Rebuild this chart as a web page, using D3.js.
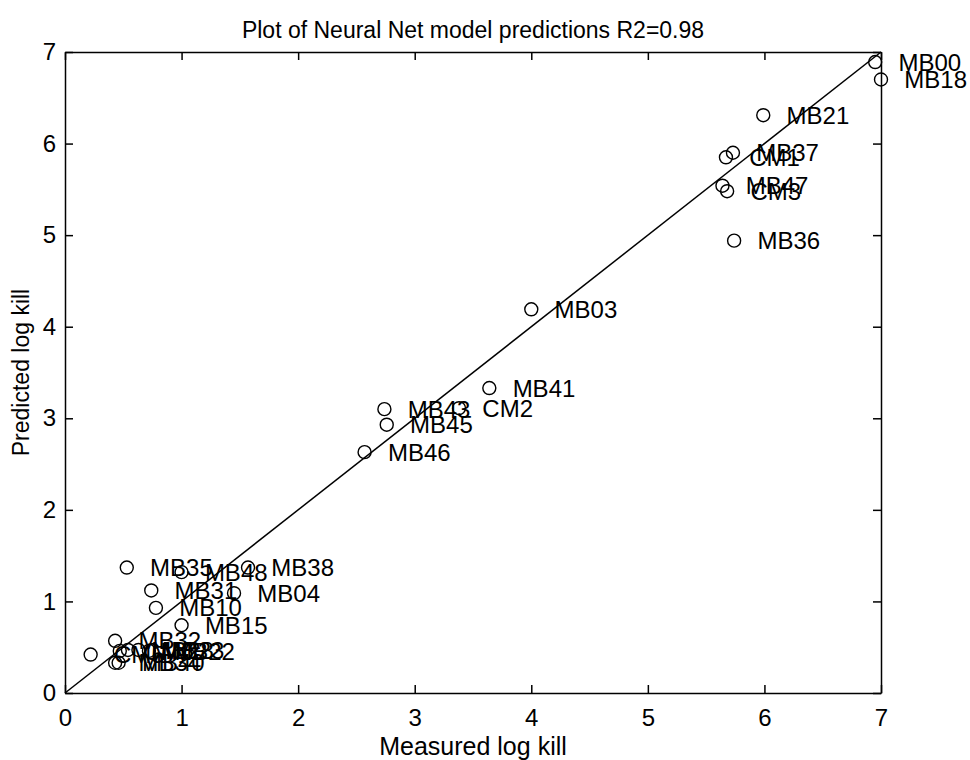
<!DOCTYPE html>
<html lang="en">

<head>
    <meta charset="UTF-8">
    <title>Plot of Neural Net model predictions</title>
    <script src="https://d3js.org/d3.v7.min.js"></script>
    <style>
        body {
            margin: 0;
            background: #fff;
        }

        svg text {
            font-family: Helvetica, Arial, "Liberation Sans", sans-serif;
            fill: #000;
        }

        .axis path,
        .axis line {
            stroke: #000;
            stroke-width: 1.5px;
        }

        .axis text {
            font-size: 24px;
        }

        .pt {
            fill: none;
            stroke: #000;
            stroke-width: 1.4px;
        }

        .pt-label {
            font-size: 24px;
        }
    </style>
</head>

<body>
    <svg width="970" height="760"></svg>

    <script>
        // measured vs predicted log kill
        const labels = ["MB00", "MB18", "MB21", "MB37", "CM1", "MB47", "CM3", "MB36",
            "MB03", "MB41", "CM2", "MB43", "MB45", "MB46",
            "MB35", "MB48", "MB38", "MB31", "MB04", "MB10", "MB15",
            "MB32", "CM5", "CM6", "MB28", "MB23", "MB22", "MB34", "MB40"];
        const measured = [6.95, 7.0, 5.99, 5.73, 5.67, 5.64, 5.68, 5.74,
            4.0, 3.64, 3.38, 2.74, 2.76, 2.57,
            0.53, 1.0, 1.57, 0.74, 1.45, 0.78, 1.0,
            0.43, 0.22, 0.47, 0.54, 0.63, 0.72, 0.43, 0.46];
        const predicted = [6.89, 6.70, 6.31, 5.90, 5.85, 5.54, 5.48, 4.94,
            4.19, 3.33, 3.11, 3.10, 2.93, 2.63,
            1.37, 1.32, 1.37, 1.12, 1.09, 0.93, 0.74,
            0.57, 0.42, 0.46, 0.47, 0.47, 0.46, 0.33, 0.33];
        const ticks = [0, 1, 2, 3, 4, 5, 6, 7];
        const r2 = "0.98";

        const points = labels.map((l, i) => ({ label: l, x: measured[i], y: predicted[i] }));

        // plot box edges in pixels
        const boxL = 65, boxR = 881, boxT = 52, boxB = 693;

        const svg = d3.select("svg");

        const x = d3.scaleLinear().domain([0, 7]).range([boxL, boxR]);
        const y = d3.scaleLinear().domain([0, 7]).range([boxB, boxT]);

        // axes, ticks inside like matlab's box
        svg.append("g")
            .attr("class", "axis")
            .attr("transform", `translate(0,${boxB})`)
            .call(d3.axisBottom(x).tickValues(ticks).tickFormat(d3.format("d"))
                .tickSizeInner(-8).tickSizeOuter(0).tickPadding(16));

        svg.append("g")
            .attr("class", "axis")
            .attr("transform", `translate(${boxL},0)`)
            .call(d3.axisLeft(y).tickValues(ticks).tickFormat(d3.format("d"))
                .tickSizeInner(-8).tickSizeOuter(0).tickPadding(9));

        svg.append("g")
            .attr("class", "axis")
            .attr("transform", `translate(0,${boxT})`)
            .call(d3.axisTop(x).tickValues(ticks).tickFormat("")
                .tickSizeInner(-8).tickSizeOuter(0));

        svg.append("g")
            .attr("class", "axis")
            .attr("transform", `translate(${boxR},0)`)
            .call(d3.axisRight(y).tickValues(ticks).tickFormat("")
                .tickSizeInner(-8).tickSizeOuter(0));

        // y = x reference line
        svg.append("line")
            .attr("x1", x(0)).attr("y1", y(0))
            .attr("x2", x(7)).attr("y2", y(7))
            .attr("stroke", "#000")
            .attr("stroke-width", 1.5);

        svg.selectAll(".pt")
            .data(points)
            .enter().append("circle")
            .attr("class", "pt")
            .attr("cx", d => x(d.x))
            .attr("cy", d => y(d.y))
            .attr("r", 6.5);

        // labels sit 0.2 units to the right of each point
        svg.selectAll(".pt-label")
            .data(points)
            .enter().append("text")
            .attr("class", "pt-label")
            .attr("x", d => x(d.x + 0.2))
            .attr("y", d => y(d.y))
            .attr("dy", "0.36em")
            .text(d => d.label);

        svg.append("text")
            .attr("x", (boxL + boxR) / 2)
            .attr("y", 38)
            .attr("text-anchor", "middle")
            .style("font-size", "23px")
            .text(`Plot of Neural Net model predictions R2=${r2}`);

        svg.append("text")
            .attr("x", (boxL + boxR) / 2)
            .attr("y", 755)
            .attr("text-anchor", "middle")
            .style("font-size", "25px")
            .text("Measured log kill");

        svg.append("text")
            .attr("transform", `translate(29,${(boxT + boxB) / 2}) rotate(-90)`)
            .attr("text-anchor", "middle")
            .style("font-size", "23px")
            .text("Predicted log kill");
    </script>
</body>

</html>
